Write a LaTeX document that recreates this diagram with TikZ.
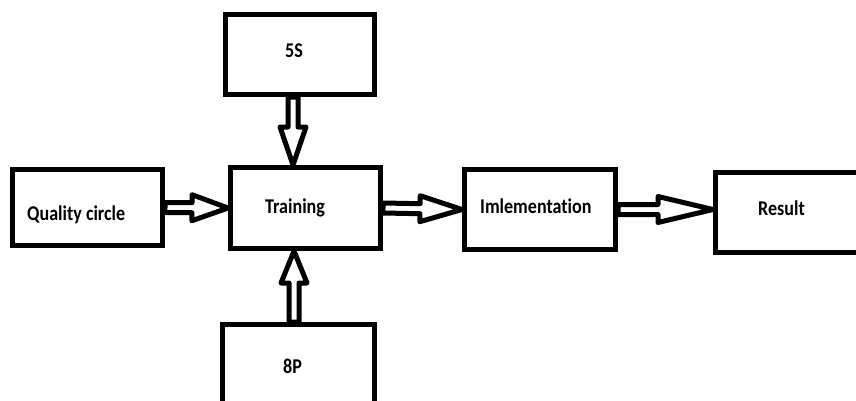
\documentclass[tikz,border=0pt]{standalone}
\usepackage{fontspec}
\setmainfont{Carlito}[FakeStretch=0.86,Ligatures={NoCommon}]
\usetikzlibrary{calc}
\def\asw{5pt}
\def\ahw{13pt}
\newcommand{\hollowarrow}[3]{%
  \coordinate (ha-h) at ($(#2)!#3!(#1)$);
  \draw[hollowarr] ($(#1)!\asw!90:(#2)$) -- ($(ha-h)!\asw!90:(#2)$) -- ($(ha-h)!\ahw!90:(#2)$) -- (#2)
    -- ($(ha-h)!\ahw!-90:(#2)$) -- ($(ha-h)!\asw!-90:(#2)$) -- ($(#1)!\asw!-90:(#2)$) -- cycle;
}
\tikzset{
  box/.style={draw=black, line width=5pt, fill=white, minimum width=#1, inner sep=0pt},
  hollowarr/.style={draw=black, line width=5pt, fill=white, line join=round},
  lbl/.style={font=\bfseries\fontsize{21}{25}\selectfont, inner sep=0pt, anchor=base west, text=black}
}
\begin{document}
\begin{tikzpicture}[x=1pt,y=-1pt]
\useasboundingbox (0,0) rectangle (856,400);
\clip (0,0) rectangle (856,400);
\fill[white] (0,0) rectangle (856,400);
% boxes
\node[box=150pt, minimum height=76pt] (qc) at (87.5,207.5) {};
\node[box=150pt, minimum height=81pt] (tr) at (305.5,208) {};
\node[box=149pt, minimum height=80pt] (s5) at (300,54.5) {};
\node[box=152pt, minimum height=100pt] (p8) at (298.5,374.5) {};
\node[box=151pt, minimum height=80pt] (im) at (540,209.5) {};
\node[box=180pt, minimum height=80pt] (rs) at (805.5,212.5) {};
% labels
\node[lbl] (tqc) at (27,220) {Quality circle};
\node[lbl] (ttr) at (265,213) {Training};
\node[lbl] (ts5) at (285,57) {5S};
\node[lbl] (tp8) at (283,373) {8P};
\node[lbl] (tim) at (480,213) {Imlementation};
\node[lbl] (trs) at (758,215) {Result};
% connector end points
\coordinate (a1) at ([xshift=-7pt]s5.south);
\coordinate (a1t) at (a1 |- tr.north);
\coordinate (a2) at ([xshift=-4.5pt]p8.north);
\coordinate (a2t) at (a2 |- tr.south);
\coordinate (a3t) at (im.east -| rs.west);
% arrows
\hollowarrow{qc.east}{tr.west}{36pt}
\hollowarrow{tr.east}{im.west}{42pt}
\hollowarrow{im.east}{a3t}{55pt}
\hollowarrow{a1}{a1t}{38pt}
\hollowarrow{a2}{a2t}{32pt}
\end{tikzpicture}
\end{document}
